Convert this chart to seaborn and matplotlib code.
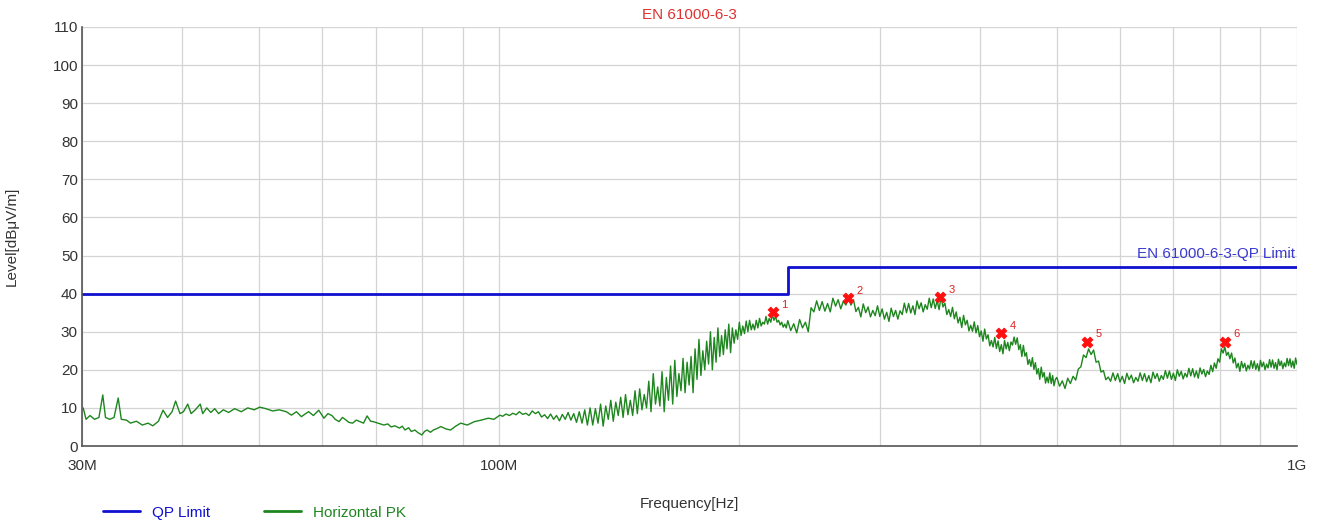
import numpy as np
import pandas as pd
import matplotlib
matplotlib.use("Agg")
import matplotlib.pyplot as plt
import seaborn as sns
from matplotlib.ticker import FixedLocator, NullFormatter

# --- data (MHz, dBuV/m) ---
freq_low = [30.1, 30.35, 30.7, 31.1, 31.5, 31.85, 32.1, 32.5, 32.9, 33.3, 33.6, 34.1, 34.5, 35.1, 35.7,
            36.3, 36.8, 37.4, 37.9, 38.4, 38.9, 39.3, 39.8, 40.2, 40.7, 41.1, 41.6, 42.2, 42.5, 43.0,
            43.5, 44.0, 44.5, 45.1, 45.8, 46.6, 47.5, 48.4, 49.3, 50.1, 51.0, 52.0, 53.0, 54.1, 54.9,
            55.7, 56.5, 57.2, 57.7, 58.5, 59.4, 60.3, 61.0, 61.7, 62.3, 63.0, 63.6, 64.1, 64.8, 65.5,
            66.2, 66.9, 67.6, 68.3, 69.0, 69.5, 70.5, 71.7, 72.5, 73.2, 74.0, 75.0, 75.6, 76.2, 77.0,
            77.6, 78.4, 79.1, 80.0, 80.6, 81.2, 82.0, 82.7, 83.6, 84.5, 85.7, 86.9, 88.2, 89.5, 91.2,
            93.1, 95.0, 96.9, 98.5, 100.2]
level_low = [10.0, 7.0, 8.0, 7.0, 7.5, 13.4, 7.5, 7.0, 7.5, 12.6, 7.0, 6.8, 6.0, 6.5, 5.5,
             6.0, 5.3, 6.5, 9.4, 7.5, 9.0, 11.8, 8.5, 9.0, 11.0, 8.5, 9.5, 11.0, 8.5, 10.0,
             8.8, 9.8, 8.5, 9.5, 8.8, 9.8, 9.0, 10.0, 9.5, 10.2, 9.8, 9.2, 9.5, 9.0, 8.1,
             9.0, 7.7, 8.5, 9.0, 8.0, 9.4, 7.3, 8.5, 8.0, 7.0, 6.4, 7.5, 7.0, 6.2, 6.0,
             6.8, 6.4, 6.0, 7.9, 6.5, 6.4, 6.0, 5.5, 5.8, 5.0, 5.3, 4.7, 5.2, 4.2, 4.8,
             3.8, 4.2, 3.5, 2.9, 3.8, 4.2, 3.6, 4.2, 4.6, 5.1, 4.5, 4.2, 5.2, 6.0, 5.5,
             6.4, 6.8, 7.3, 7.0, 8.1]

freq_rise = [101, 102, 103, 104, 105, 106, 107, 108, 109, 110, 111, 112, 113, 114, 115, 116, 117, 118,
             119, 120, 121, 122, 123, 124, 125, 126, 127, 128, 129, 130, 131, 132, 133, 134, 135, 136,
             137, 138, 139, 140, 141, 142, 143, 144, 145, 146, 147, 148, 149, 150, 151, 152, 153, 154,
             155, 156, 157, 158, 159, 160, 161, 162, 163, 164, 165, 166, 167, 168, 169, 170, 171, 172,
             173, 174, 175, 176, 177, 178, 179, 180, 181, 182, 183, 184, 185, 186, 187, 188, 189, 190,
             191, 192, 193, 194, 195, 196, 197, 198, 199, 200, 201, 202, 203, 204, 205, 206, 207, 208,
             209, 210, 211, 212, 213, 214, 215, 216, 217, 218, 219, 220, 221, 222, 223, 224, 225, 226,
             227, 228, 229]
level_rise = [7.8, 8.4, 8.0, 8.6, 8.2, 9.0, 8.3, 8.6, 8.0, 9.2, 8.5, 9.0, 7.6, 8.2, 7.2, 8.4, 7.0, 8.0,
              6.6, 8.3, 7.0, 8.8, 6.8, 8.5, 6.2, 9.0, 6.0, 9.5, 5.5, 10.0, 5.5, 9.8, 6.0, 11.0, 5.2, 10.5,
              7.0, 12.0, 6.5, 11.5, 8.0, 12.8, 7.5, 13.5, 8.2, 12.0, 8.0, 14.5, 8.5, 15.0, 9.5, 13.5, 10.0, 17.0,
              9.0, 19.0, 11.0, 15.5, 10.5, 19.5, 9.0, 18.0, 12.0, 21.0, 11.0, 22.5, 13.0, 19.0, 14.5, 23.0, 14.0, 22.0,
              16.0, 23.5, 14.0, 25.5, 17.5, 28.0, 18.5, 25.0, 20.0, 27.5, 21.5, 30.0, 20.0, 28.5, 22.0, 31.0, 23.5, 29.0,
              24.0, 30.5, 25.5, 32.0, 24.5, 31.0, 27.0, 30.5, 28.0, 32.5, 29.0, 31.5, 29.5, 32.8, 30.0, 33.0, 30.5, 32.0,
              30.5, 33.0, 31.0, 33.5, 31.5, 32.5, 32.0, 34.0, 32.0, 33.5, 32.5, 34.5, 33.0, 34.0, 32.5, 33.0, 31.8, 32.5,
              31.2, 32.0, 31.0]

freq_mid = [230, 232, 234, 236, 238, 240, 242, 244, 246, 248, 250, 252, 254, 256, 258, 260, 262, 264,
            266, 268, 270, 272, 274, 276, 278, 280, 282, 284, 286, 288, 290, 292, 294, 296, 298, 300,
            302, 304, 306, 308, 310, 312, 314, 316, 318, 320, 322, 324, 326, 328, 330, 332, 334, 336,
            338, 340, 342, 344, 346, 348, 350, 352, 354, 356, 358, 360, 362, 364, 366, 368, 370, 372,
            374, 376, 378, 380, 382, 384, 386, 388, 390, 392, 394, 396, 398, 400, 402, 404, 406, 408,
            410, 412, 414, 416, 418, 420, 422, 424, 426, 428, 430, 432, 434, 436, 438, 440, 442, 444,
            446, 448, 450, 452, 454, 456, 458, 460, 462, 464, 466, 468, 470, 472, 474, 476, 478, 480,
            482, 484, 486, 488, 490, 492, 494, 496, 498]
level_mid = [32.9, 30.3, 32.1, 29.7, 33.2, 31.0, 32.5, 30.0, 36.3, 35.2, 38.1, 35.6, 37.9, 35.4, 37.4, 35.2, 38.8, 36.7,
             38.4, 36.0, 38.0, 37.0, 39.0, 37.0, 38.4, 35.3, 36.4, 33.9, 37.3, 35.0, 36.5, 33.9, 35.6, 34.2, 36.8, 34.0,
             36.0, 33.3, 35.1, 32.7, 36.2, 34.0, 35.6, 33.3, 35.5, 34.5, 37.5, 35.0, 37.4, 34.9, 36.8, 34.5, 38.1, 36.0,
             37.6, 35.2, 37.1, 35.9, 38.8, 36.3, 38.6, 36.1, 38.1, 35.8, 39.2, 36.5, 37.5, 34.5, 35.8, 34.0, 36.4, 33.4,
             35.2, 32.3, 33.8, 31.1, 34.3, 31.8, 33.0, 30.2, 31.7, 30.1, 32.6, 29.7, 31.6, 28.7, 30.2, 27.5, 30.7, 28.1,
             29.2, 26.3, 27.7, 26.0, 28.5, 25.6, 27.6, 24.8, 26.6, 24.2, 27.7, 25.5, 27.2, 25.0, 27.3, 26.5, 28.6, 26.7,
             28.4, 25.3, 26.6, 23.5, 26.4, 23.6, 24.5, 21.4, 22.7, 20.9, 23.2, 20.1, 21.9, 18.9, 20.3, 17.5, 20.7, 18.1,
             19.3, 16.5, 18.1, 16.6, 19.2, 16.4, 18.5, 15.8, 17.5]

freq_high = [500, 504, 508, 512, 516, 520, 524, 528, 532, 536, 540, 544, 548, 552, 556, 560, 564, 568,
             572, 576, 580, 584, 588, 592, 596, 600, 604, 608, 612, 616, 620, 624, 628, 632, 636, 640,
             644, 648, 652, 656, 660, 664, 668, 672, 676, 680, 684, 688, 692, 696, 700, 704, 708, 712,
             716, 720, 724, 728, 732, 736, 740, 744, 748, 752, 756, 760, 764, 768, 772, 776, 780, 784,
             788, 792, 796, 800, 804, 808, 812, 816, 820, 824, 828, 832, 836, 840, 844, 848, 852, 856,
             860, 864, 868, 872, 876, 880, 884, 888, 892, 896, 900, 904, 908, 912, 916, 920, 924, 928,
             932, 936, 940, 944, 948, 952, 956, 960, 964, 968, 972, 976, 980, 984, 988, 992, 996, 1000]
level_high = [18.0, 15.7, 17.1, 15.1, 17.8, 16.4, 18.3, 17.3, 20.2, 20.8, 23.9, 23.2, 25.5, 24.0, 25.2, 22.0, 22.3, 19.4,
              19.8, 17.4, 18.1, 17.0, 19.2, 17.2, 19.0, 16.8, 18.3, 16.4, 19.1, 17.4, 18.6, 16.6, 18.0, 17.0, 19.2, 17.2,
              19.0, 16.9, 18.5, 16.6, 19.4, 17.7, 19.0, 17.0, 18.5, 17.5, 19.8, 17.8, 19.7, 17.5, 19.1, 17.2, 20.0, 18.3,
              19.6, 17.6, 19.1, 18.1, 20.4, 18.4, 20.3, 18.1, 19.7, 17.8, 20.5, 18.9, 20.1, 18.2, 19.7, 18.8, 21.2, 19.5,
              21.8, 20.4, 22.9, 22.0, 25.5, 24.4, 26.0, 23.8, 24.6, 22.9, 24.4, 21.8, 23.1, 20.5, 21.7, 19.6, 22.2, 20.5,
              21.7, 19.7, 21.2, 20.2, 22.4, 20.4, 22.3, 20.1, 21.6, 19.7, 22.5, 20.8, 22.0, 20.0, 21.5, 20.5, 22.7, 20.7,
              22.6, 20.4, 21.9, 20.0, 22.8, 21.1, 22.3, 20.3, 21.8, 20.8, 23.0, 21.1, 22.9, 20.7, 22.3, 20.4, 23.1, 21.4]

limit_freq = [30, 230, 230, 1000]
limit_level = [40, 40, 47, 47]

peak_freq = [220.4, 273.7, 357.0, 425.7, 545.4, 812.4]
peak_level = [35.2, 38.8, 39.2, 29.6, 27.4, 27.4]
peak_labels = ["1", "2", "3", "4", "5", "6"]

trace = pd.DataFrame({
    "freq": freq_low + freq_rise + freq_mid + freq_high,
    "level": level_low + level_rise + level_mid + level_high,
})
limit = pd.DataFrame({"freq": limit_freq, "level": limit_level})
peaks = pd.DataFrame({"freq": peak_freq, "level": peak_level})

sns.set_style("white")
plt.rcParams['font.family'] = ['Liberation Sans Narrow', 'Liberation Sans', 'DejaVu Sans']

fig = plt.figure(figsize=(13.19, 5.27), dpi=100)
ax = fig.add_axes([0.0622, 0.1537, 0.9211, 0.7951])

blue = "#1010d0"
green = "#1e861e"
sns.lineplot(data=limit, x="freq", y="level", estimator=None, sort=False, color=blue, lw=2, ax=ax, label="QP Limit")
sns.lineplot(data=trace, x="freq", y="level", estimator=None, sort=False, color=green, lw=1.0, ax=ax, label="Horizontal PK")
sns.scatterplot(data=peaks, x="freq", y="level", marker="X", s=60, color="#ff1010", edgecolor="#ff1010", ax=ax, zorder=5)
for f, l, t in zip(peak_freq, peak_level, peak_labels):
    ax.annotate(t, (f, l), xytext=(6, 3), textcoords="offset points", color="#e02020", fontsize=8)

ax.set_xscale("log")
ax.set_xlim(30, 1000)
ax.set_ylim(0, 110)
ax.xaxis.set_major_locator(FixedLocator([30, 100, 1000]))
ax.set_xticklabels(["30M", "100M", "1G"])
ax.xaxis.set_minor_locator(FixedLocator([40, 50, 60, 70, 80, 90, 200, 300, 400, 500, 600, 700, 800, 900]))
ax.xaxis.set_minor_formatter(NullFormatter())
ax.set_yticks(range(0, 111, 10))
ax.grid(True, which="both", color="#d4d4d4", lw=0.9)
ax.tick_params(axis="x", which="both", direction="in", length=5, color="#555555", labelsize=11, labelcolor="#333333", pad=9)
ax.tick_params(axis="y", length=0, labelsize=11, labelcolor="#333333", pad=3)
for s in ["top", "right"]:
    ax.spines[s].set_visible(False)
for s in ["left", "bottom"]:
    ax.spines[s].set_color("#555555")
    ax.spines[s].set_linewidth(1.2)

ax.set_xlabel("Frequency[Hz]", fontsize=11, color="#333333")
ax.xaxis.set_label_coords(0.5, -0.122)
ax.set_ylabel("Level[dBμV/m]", fontsize=11, color="#333333")
ax.yaxis.set_label_coords(-0.052, 0.5)
ax.set_title("EN 61000-6-3", color="#e03030", fontsize=11, pad=6)
ax.text(995, 48.5, "EN 61000-6-3-QP Limit", color="#3a3ad0", fontsize=11, ha="right", va="bottom")

handles, labels = ax.get_legend_handles_labels()
ax.get_legend().remove()
leg = fig.legend(handles, labels, loc="lower left", bbox_to_anchor=(0.068, -0.012), ncol=2, frameon=False,
                 fontsize=11, handlelength=2.4, columnspacing=3.5)
for txt, line, c in zip(leg.get_texts(), leg.get_lines(), [blue, green]):
    txt.set_color(c)
    line.set_linewidth(2)

fig.savefig("out.png", dpi=100)
